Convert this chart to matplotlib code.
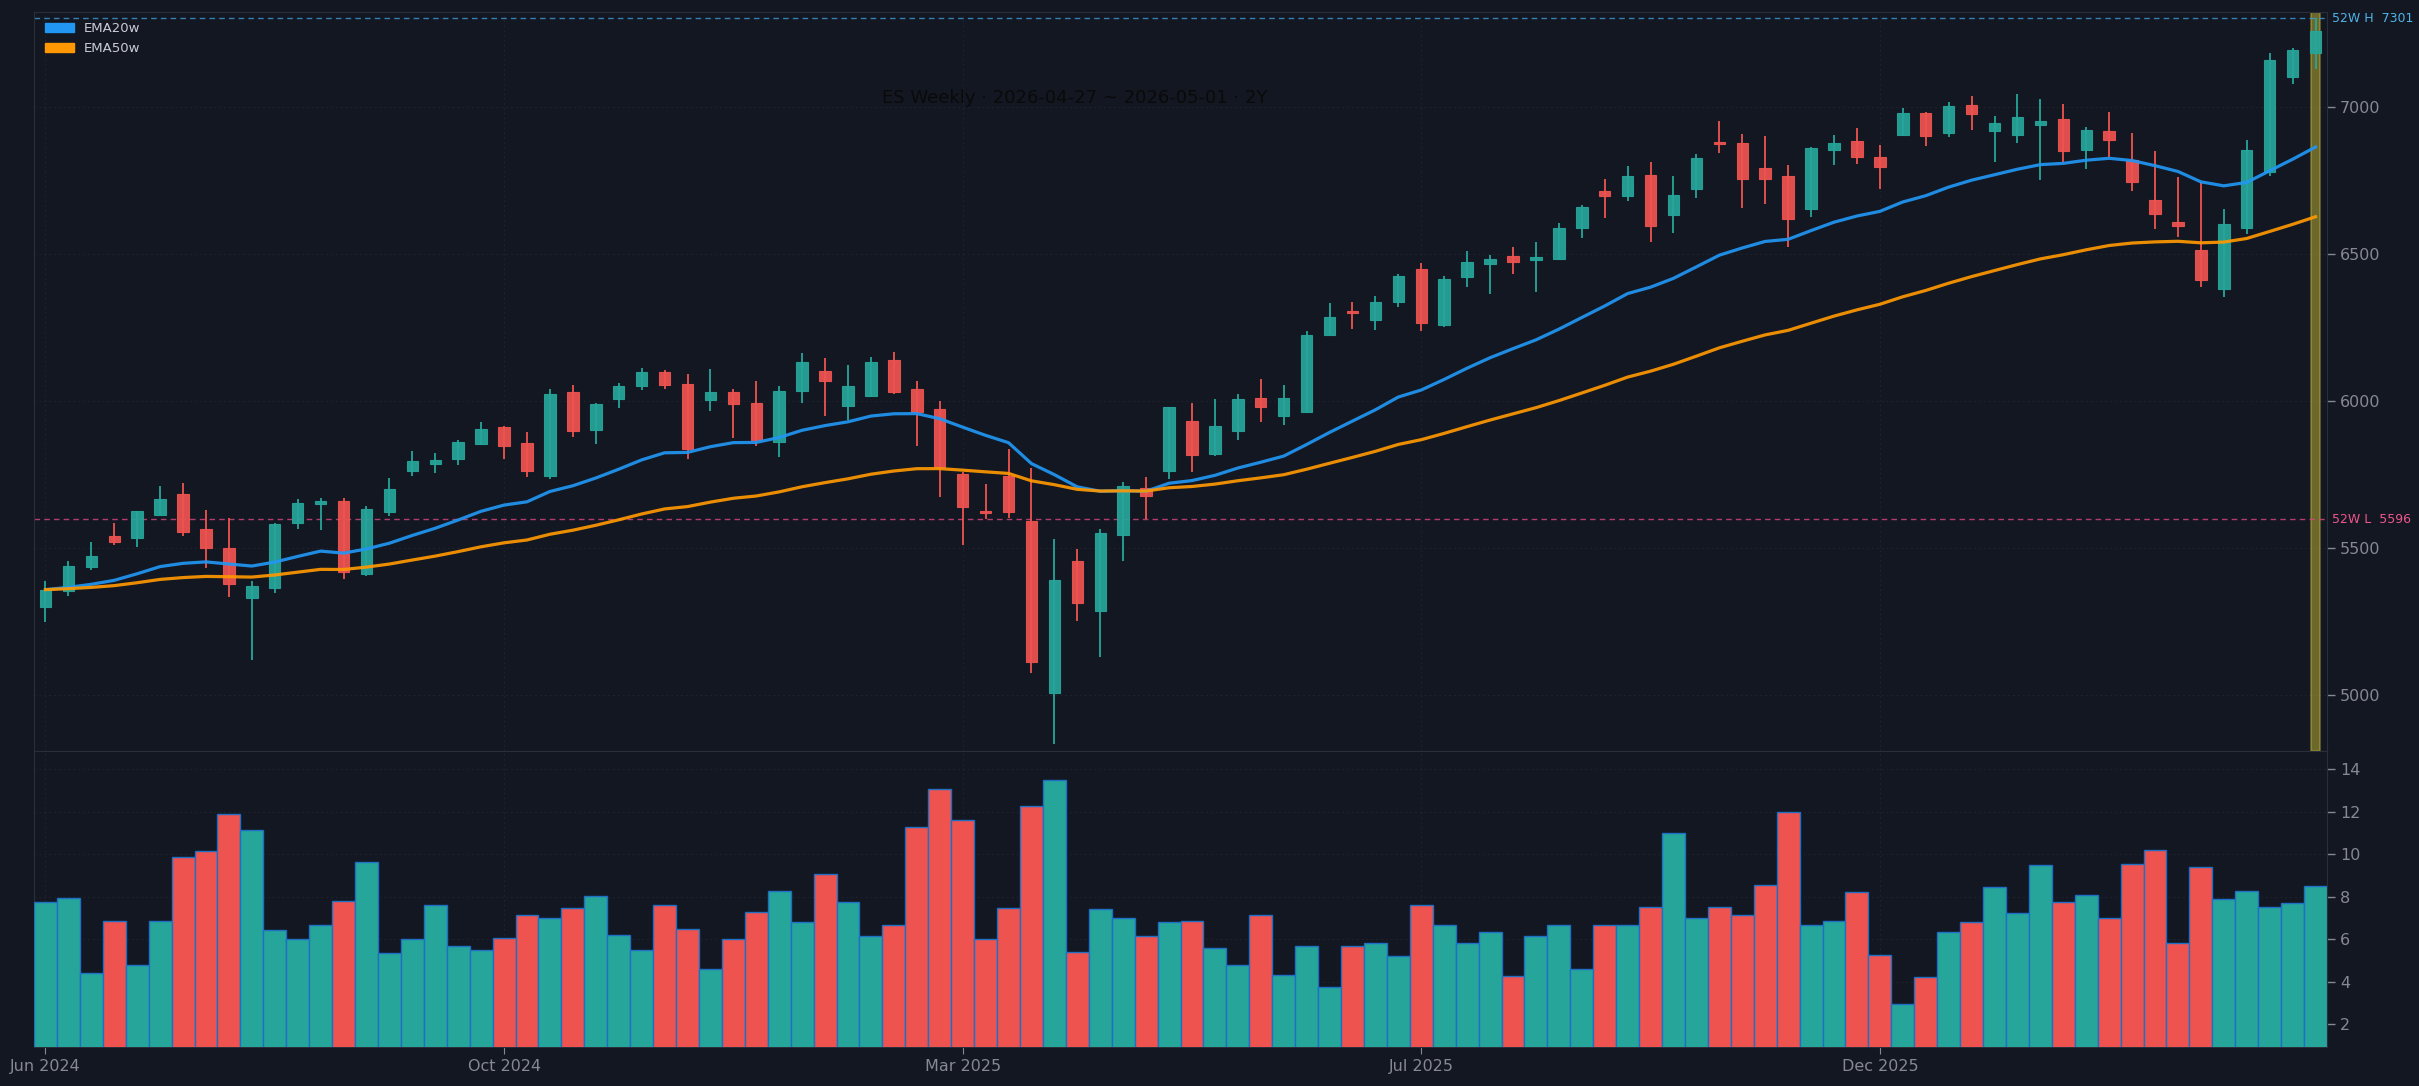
import numpy as np
import pandas as pd
import matplotlib
matplotlib.use('Agg')
import matplotlib.pyplot as plt
from matplotlib.patches import Patch

# ---------------- data ----------------
start_date = '2024-06-03'
n_weeks = 100
title_text = 'ES Weekly · 2026-04-27 ~ 2026-05-01 · 2Y'

opens = [5297, 5352, 5433, 5538, 5532, 5610, 5681, 5565, 5497, 5328,
         5362, 5583, 5648, 5657, 5410, 5620, 5760, 5784, 5801, 5852,
         5912, 5857, 5745, 6031, 5899, 6005, 6049, 6096, 6055, 6001,
         6031, 5993, 5861, 6032, 6102, 5981, 6015, 6140, 6041, 5970,
         5752, 5626, 5742, 5592, 5006, 5453, 5284, 5542, 5704, 5760,
         5931, 5817, 5896, 6010, 5947, 5961, 6222, 6306, 6274, 6335,
         6449, 6257, 6420, 6464, 6493, 6478, 6481, 6586, 6715, 6695,
         6769, 6631, 6719, 6881, 6878, 6790, 6766, 6651, 6852, 6885,
         6830, 6903, 6980, 6910, 7007, 6917, 6903, 6937, 6958, 6852,
         6918, 6819, 6683, 6609, 6511, 6379, 6587, 6777, 7100, 7182]
highs = [5387, 5455, 5520, 5584, 5625, 5708, 5720, 5628, 5601, 5385,
         5584, 5666, 5670, 5670, 5643, 5738, 5829, 5822, 5866, 5928,
         5915, 5894, 6040, 6054, 5992, 6060, 6111, 6105, 6091, 6108,
         6038, 6067, 6051, 6162, 6146, 6122, 6147, 6166, 6068, 5999,
         5758, 5717, 5836, 5770, 5530, 5496, 5562, 5724, 5741, 5977,
         5992, 6006, 6024, 6075, 6054, 6237, 6332, 6337, 6356, 6431,
         6469, 6423, 6509, 6496, 6523, 6541, 6605, 6664, 6754, 6799,
         6812, 6765, 6839, 6952, 6907, 6901, 6802, 6864, 6904, 6928,
         6870, 6994, 6983, 7016, 7038, 6968, 7043, 7026, 7009, 6931,
         6982, 6910, 6848, 6761, 6743, 6651, 6886, 7183, 7200, 7301]
lows = [5247, 5335, 5423, 5508, 5503, 5610, 5539, 5431, 5331, 5119,
        5346, 5563, 5560, 5394, 5403, 5607, 5743, 5755, 5780, 5848,
        5802, 5740, 5735, 5877, 5853, 5975, 6035, 6040, 5802, 5964,
        5872, 5845, 5809, 5992, 5949, 5934, 6012, 6022, 5846, 5673,
        5509, 5598, 5602, 5074, 4832, 5251, 5128, 5454, 5596, 5734,
        5758, 5811, 5866, 5927, 5916, 5958, 6222, 6244, 6241, 6319,
        6236, 6250, 6387, 6363, 6430, 6369, 6478, 6552, 6622, 6680,
        6540, 6571, 6690, 6843, 6656, 6669, 6523, 6626, 6802, 6805,
        6720, 6900, 6867, 6897, 6921, 6811, 6877, 6751, 6811, 6788,
        6828, 6714, 6584, 6556, 6386, 6352, 6567, 6763, 7077, 7128]
closes = [5357, 5439, 5473, 5518, 5623, 5667, 5552, 5498, 5376, 5371,
          5579, 5653, 5660, 5416, 5630, 5701, 5793, 5798, 5861, 5905,
          5845, 5762, 6024, 5896, 5987, 6051, 6099, 6052, 5837, 6028,
          5988, 5865, 6034, 6133, 6066, 6051, 6133, 6029, 5961, 5774,
          5637, 5617, 5620, 5110, 5391, 5311, 5551, 5711, 5675, 5977,
          5814, 5915, 6007, 5978, 6010, 6225, 6283, 6297, 6334, 6425,
          6263, 6415, 6473, 6483, 6471, 6490, 6589, 6660, 6695, 6766,
          6593, 6701, 6827, 6872, 6753, 6753, 6617, 6861, 6878, 6828,
          6794, 6980, 6900, 7004, 6974, 6945, 6965, 6952, 6848, 6921,
          6886, 6743, 6634, 6593, 6410, 6601, 6853, 7159, 7193, 7259]
volumes = [7.75, 7.96, 4.4, 6.87, 4.76, 6.87, 9.85, 10.15, 11.9, 11.16,
           6.44, 6.0, 6.65, 7.8, 9.63, 5.35, 6.0, 7.6, 5.7, 5.5,
           6.07, 7.16, 7.0, 7.45, 8.04, 6.2, 5.5, 7.6, 6.5, 4.6,
           6.0, 7.3, 8.25, 6.8, 9.05, 7.75, 6.15, 6.65, 11.3, 13.1,
           11.6, 6.0, 7.45, 12.3, 13.5, 5.4, 7.4, 7.0, 6.15, 6.8,
           6.87, 5.56, 4.76, 7.16, 4.33, 5.7, 3.75, 5.7, 5.8, 5.2,
           7.6, 6.65, 5.8, 6.36, 4.25, 6.15, 6.65, 4.6, 6.65, 6.65,
           7.5, 11.0, 7.0, 7.5, 7.16, 8.55, 12.0, 6.65, 6.87, 8.2,
           5.27, 2.95, 4.2, 6.36, 6.8, 8.47, 7.25, 9.5, 7.75, 8.1,
           7.0, 9.56, 10.2, 5.8, 9.4, 7.9, 8.25, 7.5, 7.7, 8.5]
ema_spans = [20, 50]
ema_labels = ['EMA20w', 'EMA50w']
tick_step = 20

# ---------------- style ----------------
BG = '#131722'
UP = '#26a69a'
DN = '#ef5350'
GRID = '#2a2e39'
TXT = '#868993'
EMA_COLORS = ['#2196f3', '#ff9800']

dates = pd.date_range(start_date, periods=n_weeks, freq='W-MON')
x = np.arange(n_weeks)
o = np.array(opens, float); h = np.array(highs, float)
l = np.array(lows, float); c = np.array(closes, float)
v = np.array(volumes, float)
up = c >= o
cols = np.where(up, UP, DN)

W, H = 2419, 1086
fig = plt.figure(figsize=(W / 100, H / 100), dpi=100, facecolor=BG)
left = 34 / W
right = 2327 / W
p_top = 1 - 11.8 / H
p_bot = 1 - 751 / H
v_bot = 1 - 1046.7 / H
ax = fig.add_axes([left, p_bot, right - left, p_top - p_bot])
axv = fig.add_axes([left, v_bot, right - left, p_bot - v_bot], sharex=ax)

for a in (ax, axv):
    a.set_facecolor(BG)
    for s in a.spines.values():
        s.set_color(GRID)
    a.yaxis.tick_right()
    a.tick_params(axis='y', colors=TXT, labelsize=11.5, length=6, width=1)
    a.grid(True, color=GRID, linestyle=(0, (2, 3)), linewidth=0.7, alpha=0.5)
    a.set_axisbelow(True)

# highlight last candle
ax.axvspan(x[-1] - 0.19, x[-1] + 0.19, facecolor='#ffeb3b', alpha=0.38,
           edgecolor='#c8c040', linewidth=1.5, zorder=1)

# candles
ax.vlines(x, l, h, colors=cols, linewidth=1.3, zorder=3)
body_bottom = np.minimum(o, c)
body_h = np.maximum(np.abs(c - o), 4)
ax.bar(x, body_h, bottom=body_bottom, width=0.5, color=cols, edgecolor=cols,
       linewidth=0.8, alpha=0.92, zorder=4)

# EMAs
for span, col, lab in zip(ema_spans, EMA_COLORS, ema_labels):
    ema = pd.Series(c).ewm(span=span, adjust=False).mean()
    ax.plot(x, ema.values, color=col, linewidth=2.3, alpha=0.92, zorder=5)

# 52 week high / low
hi52 = h[-52:].max()
lo52 = l[-52:].min()
ax.axhline(hi52, color='#3d9bd6', linestyle=(0, (4, 3)), linewidth=1.0, alpha=0.8, zorder=2)
ax.axhline(lo52, color='#d9487f', linestyle=(0, (4, 3)), linewidth=1.0, alpha=0.8, zorder=2)
ax.text(1.002, hi52, f'52W H  {hi52:.0f}', transform=ax.get_yaxis_transform(),
        color='#4fb3e8', fontsize=9, va='center', ha='left')
ax.text(1.002, lo52, f'52W L  {lo52:.0f}', transform=ax.get_yaxis_transform(),
        color='#f0568c', fontsize=9, va='center', ha='left')

ax.set_ylim(4808, 7323)
ax.set_yticks([5000, 5500, 6000, 6500, 7000])
ax.set_xlim(-0.5, n_weeks - 0.5)
ax.tick_params(axis='x', labelbottom=False, length=0)

leg = ax.legend(handles=[Patch(facecolor=col, edgecolor=col, label=lab)
                         for col, lab in zip(EMA_COLORS, ema_labels)],
                loc='upper left', frameon=False, fontsize=9.5, labelcolor='#c9ccd4',
                borderaxespad=0.4, handlelength=2.2)

# volume
axv.bar(x, v, width=1.0, color=cols, edgecolor='#1f6fc4', linewidth=1.0, zorder=3)
axv.set_ylim(0.93, 14.87)
axv.set_yticks([2, 4, 6, 8, 10, 12, 14])
tick_idx = x[::tick_step]
axv.set_xticks(tick_idx)
axv.set_xticklabels([dates[i].strftime('%b %Y') for i in tick_idx])
axv.tick_params(axis='x', colors=TXT, labelsize=11.5, length=5)

fig.text(1075 / W, 1 - 98 / H, title_text, ha='center', va='center',
         fontsize=13, color='#0a0a0a')

fig.savefig('out.png', dpi=100, facecolor=BG)
